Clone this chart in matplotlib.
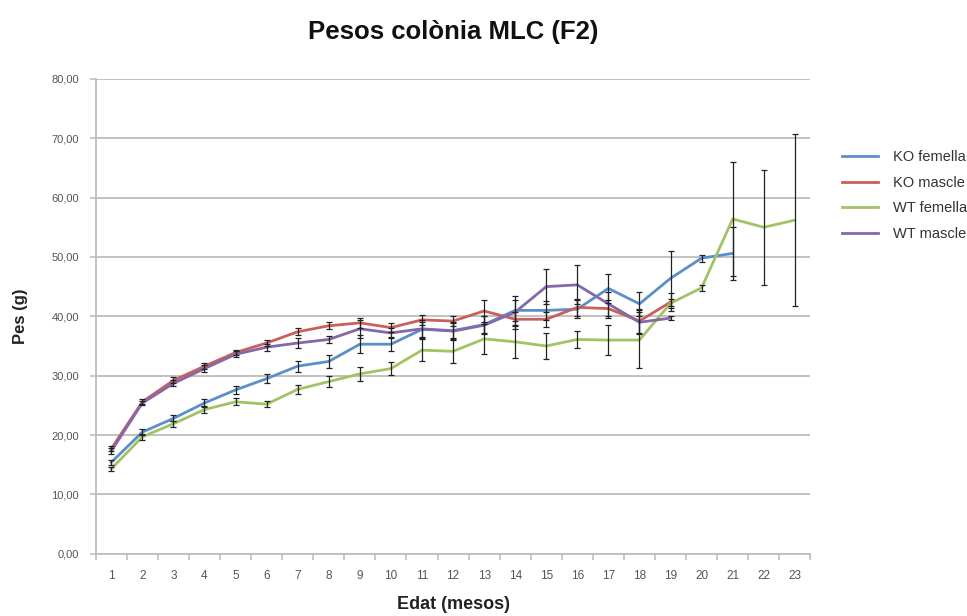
import numpy as np
import matplotlib.pyplot as plt
from matplotlib.ticker import FixedLocator, FuncFormatter

plt.rcParams['font.family'] = ['Liberation Sans', 'DejaVu Sans']

# Age in months
edat = list(range(1, 24))

# Mean weights (g)
ko_femella = [15.4, 20.5, 22.8, 25.4, 27.6, 29.5, 31.6, 32.4, 35.3, 35.3, 37.8,
              37.6, 38.6, 41.0, 41.0, 41.2, 44.7, 42.1, 46.4, 49.8, 50.6]
ko_mascle = [17.7, 25.6, 29.2, 31.6, 33.9, 35.5, 37.4, 38.4, 38.9, 38.1, 39.4,
             39.2, 40.9, 39.5, 39.5, 41.5, 41.3, 39.2, 42.4]
wt_femella = [14.3, 19.7, 21.9, 24.3, 25.6, 25.2, 27.7, 29.0, 30.3, 31.2, 34.3,
              34.1, 36.2, 35.7, 35.0, 36.1, 36.0, 36.0, 42.2, 44.8, 56.4, 55.0, 56.2]
wt_mascle = [17.3, 25.4, 28.7, 31.2, 33.6, 34.8, 35.5, 36.1, 37.9, 37.2, 37.9,
             37.5, 38.5, 40.7, 45.0, 45.3, 42.1, 39.0, 39.7]

# Error (g)
ko_femella_err = [0.4, 0.5, 0.5, 0.6, 0.7, 0.8, 0.9, 1.1, 1.5, 1.2, 1.2,
                  1.3, 1.4, 1.8, 1.6, 1.5, 2.4, 2.0, 4.6, 0.6, 4.5]
ko_mascle_err = [0.4, 0.4, 0.5, 0.5, 0.5, 0.5, 0.6, 0.6, 0.8, 0.7, 0.8,
                 0.9, 1.9, 1.2, 1.3, 1.5, 1.5, 2.0, 1.5]
wt_femella_err = [0.4, 0.5, 0.5, 0.6, 0.6, 0.5, 0.8, 0.9, 1.2, 1.1, 1.9,
                  2.0, 2.5, 2.8, 2.2, 1.5, 2.5, 4.7, 0.8, 0.5, 9.6, 9.7, 14.5]
wt_mascle_err = [0.5, 0.4, 0.5, 0.6, 0.5, 0.6, 0.8, 0.6, 1.5, 0.9, 1.5,
                 1.5, 1.5, 2.8, 3.0, 3.3, 2.0, 2.0, 0.4]

series = [
    ("KO femella", ko_femella, ko_femella_err, "#5B8FC8"),
    ("KO mascle", ko_mascle, ko_mascle_err, "#C9605C"),
    ("WT femella", wt_femella, wt_femella_err, "#A3C263"),
    ("WT mascle", wt_mascle, wt_mascle_err, "#8468AA"),
]

fig = plt.figure(figsize=(9.67, 6.16), dpi=100)
ax = fig.add_axes([0.099, 0.101, 0.739, 0.771])

for name, vals, err, col in series:
    x = edat[:len(vals)]
    ax.plot(x, vals, color=col, lw=2.0, label=name, zorder=3)
    ax.errorbar(x, vals, yerr=err, fmt='none', ecolor='#222222',
                elinewidth=0.9, capsize=2, capthick=0.9, zorder=4)

ax.set_xlim(0.5, 23.5)
ax.set_ylim(0, 80)
ax.set_yticks(np.arange(0, 81, 10))
ax.yaxis.set_major_formatter(FuncFormatter(lambda v, p: f"{v:.2f}".replace('.', ',')))
ax.yaxis.grid(True, color='#BDBDBD', lw=1.3)
ax.set_axisbelow(True)

ax.set_xticks(edat)
ax.xaxis.set_minor_locator(FixedLocator(np.arange(0.5, 24, 1)))
ax.tick_params(axis='x', which='major', length=0, pad=12, labelsize=8.5,
               labelcolor='#555555')
ax.tick_params(axis='x', which='minor', length=4, color='#BDBDBD', width=1.2)
ax.tick_params(axis='y', length=4, color='#BDBDBD', width=1.2, labelsize=8,
               pad=8, labelcolor='#555555')

for s in ['top', 'right']:
    ax.spines[s].set_visible(False)
for s in ['left', 'bottom']:
    ax.spines[s].set_color('#BDBDBD')
    ax.spines[s].set_linewidth(1.3)

ax.set_xlabel("Edat (mesos)", fontsize=13, fontweight='bold', labelpad=10,
              color='#222222')
ax.set_ylabel("Pes (g)", fontsize=12, fontweight='bold', labelpad=17,
              color='#222222')
ax.set_title("Pesos colònia MLC (F2)", fontsize=18.5, fontweight='bold',
             pad=29, color='#111111')

fig.legend(loc='upper left', bbox_to_anchor=(0.857, 0.777), frameon=False,
           fontsize=10.5, handlelength=2.5, labelspacing=0.78, handletextpad=1.0,
           labelcolor='#333333')

fig.savefig("out.png", dpi=100)
